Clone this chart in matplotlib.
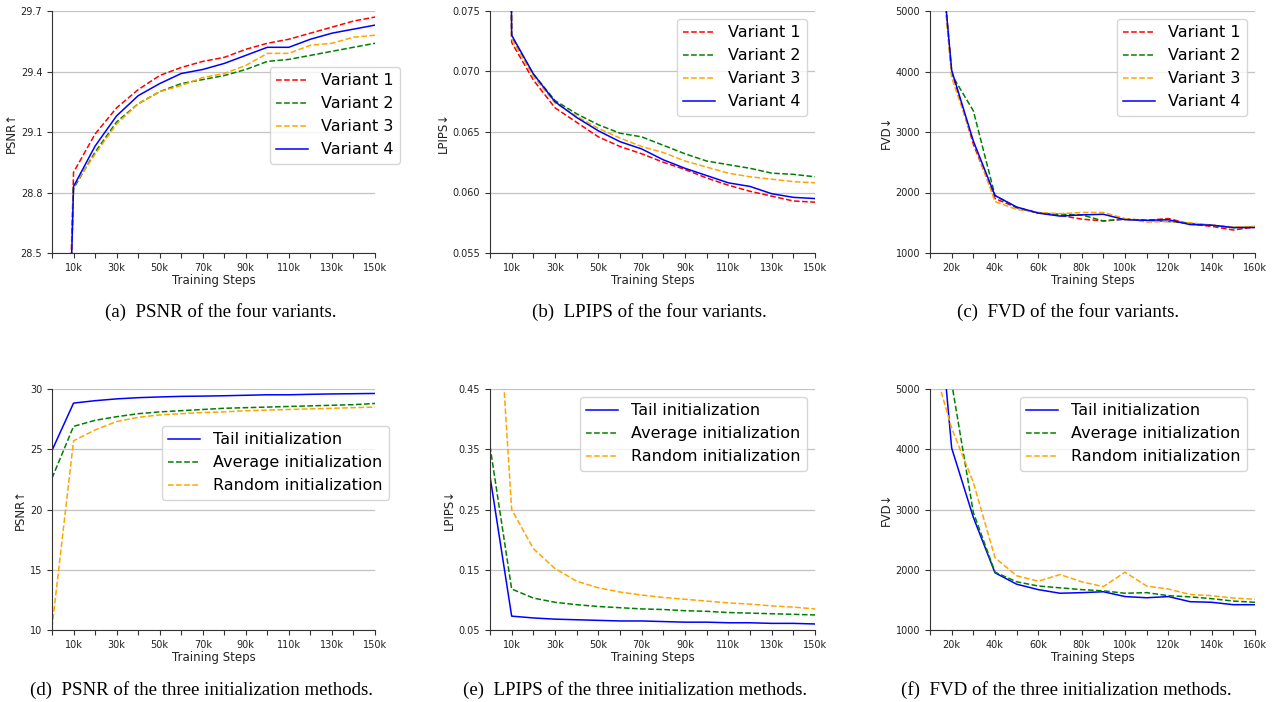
import matplotlib
matplotlib.use('Agg')
import matplotlib.pyplot as plt

# x positions (training steps)
steps = [0, 10000, 20000, 30000, 40000, 50000, 60000, 70000, 80000,
         90000, 100000, 110000, 120000, 130000, 140000, 150000]
steps_fvd = [10000, 20000, 30000, 40000, 50000, 60000, 70000, 80000, 90000,
             100000, 110000, 120000, 130000, 140000, 150000, 160000]

labels_150 = ['', '10k', '', '30k', '', '50k', '', '70k', '', '90k', '',
              '110k', '', '130k', '', '150k']
labels_160 = ['', '20k', '', '40k', '', '60k', '', '80k', '', '100k', '',
              '120k', '', '140k', '', '160k']

# (a) PSNR of the four variants
psnr_v1 = [25.0, 28.90, 29.09, 29.22, 29.31, 29.38, 29.42, 29.45, 29.47,
           29.51, 29.54, 29.56, 29.59, 29.62, 29.65, 29.67]
psnr_v2 = [25.0, 28.82, 29.00, 29.15, 29.24, 29.30, 29.34, 29.36, 29.38,
           29.41, 29.45, 29.46, 29.48, 29.50, 29.52, 29.54]
psnr_v3 = [25.0, 28.83, 28.99, 29.14, 29.24, 29.30, 29.33, 29.37, 29.39,
           29.43, 29.49, 29.49, 29.53, 29.54, 29.57, 29.58]
psnr_v4 = [24.9, 28.83, 29.03, 29.18, 29.28, 29.34, 29.39, 29.41, 29.44,
           29.48, 29.52, 29.52, 29.56, 29.59, 29.61, 29.63]

# (b) LPIPS of the four variants
lpips_v1 = [0.31, 0.0724, 0.0693, 0.0670, 0.0658, 0.0646, 0.0638, 0.0632, 0.0625,
            0.0619, 0.0612, 0.0606, 0.0601, 0.0597, 0.0593, 0.0592]
lpips_v2 = [0.31, 0.0728, 0.0698, 0.0676, 0.0665, 0.0656, 0.0649, 0.0646, 0.0639,
            0.0632, 0.0626, 0.0623, 0.0620, 0.0616, 0.0615, 0.0613]
lpips_v3 = [0.31, 0.0727, 0.0696, 0.0674, 0.0663, 0.0653, 0.0645, 0.0638, 0.0633,
            0.0626, 0.0621, 0.0616, 0.0613, 0.0611, 0.0609, 0.0608]
lpips_v4 = [0.31, 0.0730, 0.0698, 0.0675, 0.0662, 0.0651, 0.0642, 0.0636, 0.0627,
            0.0620, 0.0614, 0.0608, 0.0605, 0.0599, 0.0596, 0.0595]

# (c) FVD of the four variants
fvd_v1 = [8000, 4000, 2800, 1900, 1750, 1660, 1620, 1560, 1530,
          1560, 1540, 1570, 1480, 1440, 1380, 1430]
fvd_v2 = [8000, 3950, 3350, 1950, 1750, 1660, 1640, 1630, 1530,
          1560, 1540, 1520, 1490, 1460, 1420, 1430]
fvd_v3 = [8000, 3900, 2850, 1850, 1720, 1670, 1650, 1670, 1670,
          1570, 1510, 1520, 1500, 1460, 1430, 1440]
fvd_v4 = [8000, 4020, 2850, 1950, 1760, 1660, 1610, 1630, 1640,
          1550, 1540, 1550, 1470, 1460, 1420, 1420]

# (d) PSNR of the three initialization methods
psnr_tail = psnr_v4
psnr_avg = [22.6, 26.9, 27.4, 27.7, 27.95, 28.1, 28.2, 28.3, 28.4,
            28.45, 28.5, 28.55, 28.6, 28.65, 28.7, 28.8]
psnr_rand = [10.2, 25.7, 26.6, 27.3, 27.65, 27.85, 27.95, 28.05, 28.1,
             28.2, 28.25, 28.3, 28.35, 28.4, 28.45, 28.5]

# (e) LPIPS of the three initialization methods
lpips_tail = [0.305, 0.073, 0.070, 0.068, 0.067, 0.066, 0.065, 0.065, 0.064,
              0.063, 0.063, 0.062, 0.062, 0.061, 0.061, 0.060]
lpips_avg = [0.355, 0.118, 0.103, 0.096, 0.092, 0.089, 0.087, 0.085, 0.084,
             0.082, 0.081, 0.079, 0.078, 0.077, 0.076, 0.075]
lpips_rand = [0.82, 0.250, 0.185, 0.152, 0.131, 0.120, 0.113, 0.108, 0.104,
              0.101, 0.098, 0.095, 0.093, 0.090, 0.088, 0.085]

# (f) FVD of the three initialization methods
fvd_tail = [8000, 4020, 2870, 1950, 1760, 1670, 1610, 1620, 1635,
            1555, 1535, 1555, 1470, 1460, 1420, 1420]
fvd_avg = [9000, 5100, 2950, 1960, 1800, 1730, 1700, 1670, 1650,
           1610, 1620, 1570, 1550, 1520, 1480, 1460]
fvd_rand = [5600, 4350, 3450, 2200, 1900, 1810, 1920, 1800, 1720,
            1960, 1730, 1680, 1590, 1570, 1530, 1510]

variant_names = ['Variant 1', 'Variant 2', 'Variant 3', 'Variant 4']
init_names = ['Tail initialization', 'Average initialization', 'Random initialization']

captions = ['(a)  PSNR of the four variants.',
            '(b)  LPIPS of the four variants.',
            '(c)  FVD of the four variants.',
            '(d)  PSNR of the three initialization methods.',
            '(e)  LPIPS of the three initialization methods.',
            '(f)  FVD of the three initialization methods.']

W, H = 1273, 702
fig = plt.figure(figsize=(W / 100, H / 100), dpi=100)


def make_axes(left, right, top, bottom):
    return fig.add_axes([left / W, 1 - bottom / H, (right - left) / W, (bottom - top) / H])


def style(ax, ylabel, xticks, xlabels, yticks, ylim, xlim):
    ax.set_xlim(xlim)
    ax.set_ylim(ylim)
    ax.set_xticks(xticks)
    ax.set_xticklabels(xlabels)
    ax.set_yticks(yticks)
    ax.tick_params(labelsize=7, colors='#333333', length=3.5, width=0.8)
    ax.tick_params(labelcolor='#222222')
    ax.grid(axis='y', color='#c4c4c4', linewidth=0.9)
    ax.set_axisbelow(True)
    for s in ['top', 'right']:
        ax.spines[s].set_visible(False)
    for s in ['left', 'bottom']:
        ax.spines[s].set_color('#333333')
    ax.set_xlabel('Training Steps', fontsize=8.5, labelpad=1, color='#222222')
    ax.set_ylabel(ylabel, fontsize=8.5, labelpad=2, color='#222222')


four = [('red', '--'), ('green', '--'), ('orange', '--'), ('blue', '-')]
three = [('blue', '-'), ('green', '--'), ('orange', '--')]
lw = 1.1
leg_kw = dict(fontsize=11.5)

# (a)
ax = make_axes(52, 375, 11, 253)
for y, (c, ls), n in zip([psnr_v1, psnr_v2, psnr_v3, psnr_v4], four, variant_names):
    ax.plot(steps, y, color=c, linestyle=ls, linewidth=lw, label=n)
style(ax, 'PSNR↑', steps, labels_150, [28.5, 28.8, 29.1, 29.4, 29.7], (28.5, 29.7), (0, 150000))
ax.legend(loc='upper right', bbox_to_anchor=(1.102, 0.802), **leg_kw)

# (b)
ax = make_axes(490, 815, 11, 253)
for y, (c, ls), n in zip([lpips_v1, lpips_v2, lpips_v3, lpips_v4], four, variant_names):
    ax.plot(steps, y, color=c, linestyle=ls, linewidth=lw, label=n)
style(ax, 'LPIPS↓', steps, labels_150, [0.055, 0.060, 0.065, 0.070, 0.075], (0.055, 0.075), (0, 150000))
ax.set_yticklabels(['0.055', '0.060', '0.065', '0.070', '0.075'])
ax.legend(loc='upper right', **leg_kw)

# (c)
ax = make_axes(930, 1255, 11, 253)
for y, (c, ls), n in zip([fvd_v1, fvd_v2, fvd_v3, fvd_v4], four, variant_names):
    ax.plot(steps_fvd, y, color=c, linestyle=ls, linewidth=lw, label=n)
style(ax, 'FVD↓', steps_fvd, labels_160, [1000, 2000, 3000, 4000, 5000], (1000, 5000), (10000, 160000))
ax.legend(loc='upper right', **leg_kw)

# (d)
ax = make_axes(52, 375, 389, 630)
for y, (c, ls), n in zip([psnr_tail, psnr_avg, psnr_rand], three, init_names):
    ax.plot(steps, y, color=c, linestyle=ls, linewidth=lw, label=n)
style(ax, 'PSNR↑', steps, labels_150, [10, 15, 20, 25, 30], (10, 30), (0, 150000))
ax.legend(loc='upper right', bbox_to_anchor=(1.068, 0.880), **leg_kw)

# (e)
ax = make_axes(490, 815, 389, 630)
for y, (c, ls), n in zip([lpips_tail, lpips_avg, lpips_rand], three, init_names):
    ax.plot(steps, y, color=c, linestyle=ls, linewidth=lw, label=n)
style(ax, 'LPIPS↓', steps, labels_150, [0.05, 0.15, 0.25, 0.35, 0.45], (0.05, 0.45), (0, 150000))
ax.legend(loc='upper right', **leg_kw)

# (f)
ax = make_axes(930, 1255, 389, 630)
for y, (c, ls), n in zip([fvd_tail, fvd_avg, fvd_rand], three, init_names):
    ax.plot(steps_fvd, y, color=c, linestyle=ls, linewidth=lw, label=n)
style(ax, 'FVD↓', steps_fvd, labels_160, [1000, 2000, 3000, 4000, 5000], (1000, 5000), (10000, 160000))
ax.legend(loc='upper right', **leg_kw)

# captions under each panel
cap_x = [221, 649, 1068, 201, 635, 1066]
cap_y = [312, 312, 312, 690, 690, 690]
for t, x, y in zip(captions, cap_x, cap_y):
    fig.text(x / W, 1 - y / H, t, ha='center', va='center', fontsize=13.6,
             family='Liberation Serif')

fig.savefig('out.png', dpi=100)
